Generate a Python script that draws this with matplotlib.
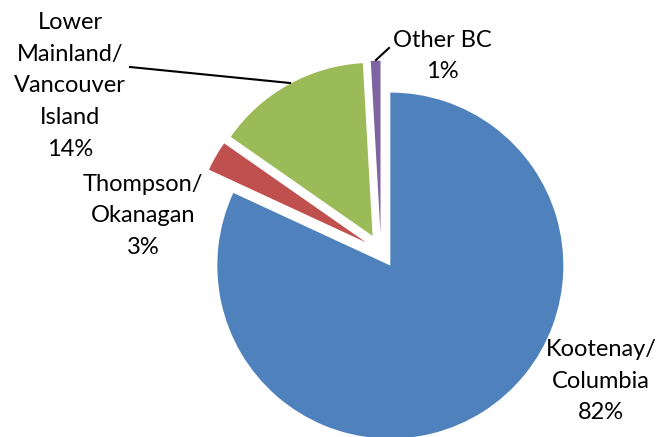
import matplotlib
matplotlib.use("Agg")
import matplotlib.pyplot as plt

# ---- data ----
regions = ["Kootenay/\nColumbia", "Thompson/\nOkanagan",
           "Lower\nMainland/\nVancouver\nIsland", "Other BC"]
shares = [81.9, 2.8, 14.4, 0.9]
colors = ["#4F81BD", "#C0504D", "#9BBB59", "#8064A2"]

# ---- layout (pixels of a 662x437 canvas, y from top) ----
W, H = 662, 437
CX, CY = 381, 251          # pie centre
R = 173                    # pie radius
label_pos = [(601, 381), (143, 216), (70, 86), (442, 56)]
leaders = [None, None, ((130, 67), (290, 83)), ((389, 48), (376, 60))]

def px(x, y):
    return ((x - CX) / R, (H - y - (H - CY)) / R)

fig = plt.figure(figsize=(W / 100, H / 100), dpi=100)
ax = fig.add_axes([0, 0, 1, 1])
ax.pie(shares, colors=colors, startangle=90, counterclock=False,
       explode=[0.1] * len(shares), radius=1,
       wedgeprops=dict(linewidth=0))
x0, _ = px(0, 0)
x1, _ = px(W, 0)
_, y0 = px(0, H)
_, y1 = px(0, 0)
ax.set_xlim(x0, x1)
ax.set_ylim(y0, y1)
ax.set_aspect("auto")
ax.axis("off")

for name, v, pos, ld in zip(regions, shares, label_pos, leaders):
    tx, ty = px(*pos)
    ax.text(tx, ty, f"{name}\n{round(v)}%", ha="center", va="center",
            fontsize=17, family=["Lato", "DejaVu Sans"],
            linespacing=1.62, color="black")
    if ld is not None:
        (a, b), (c, d) = ld
        p1, p2 = px(a, b), px(c, d)
        ax.plot([p1[0], p2[0]], [p1[1], p2[1]], color="black", lw=1.5)

fig.savefig("out.png", dpi=100)
